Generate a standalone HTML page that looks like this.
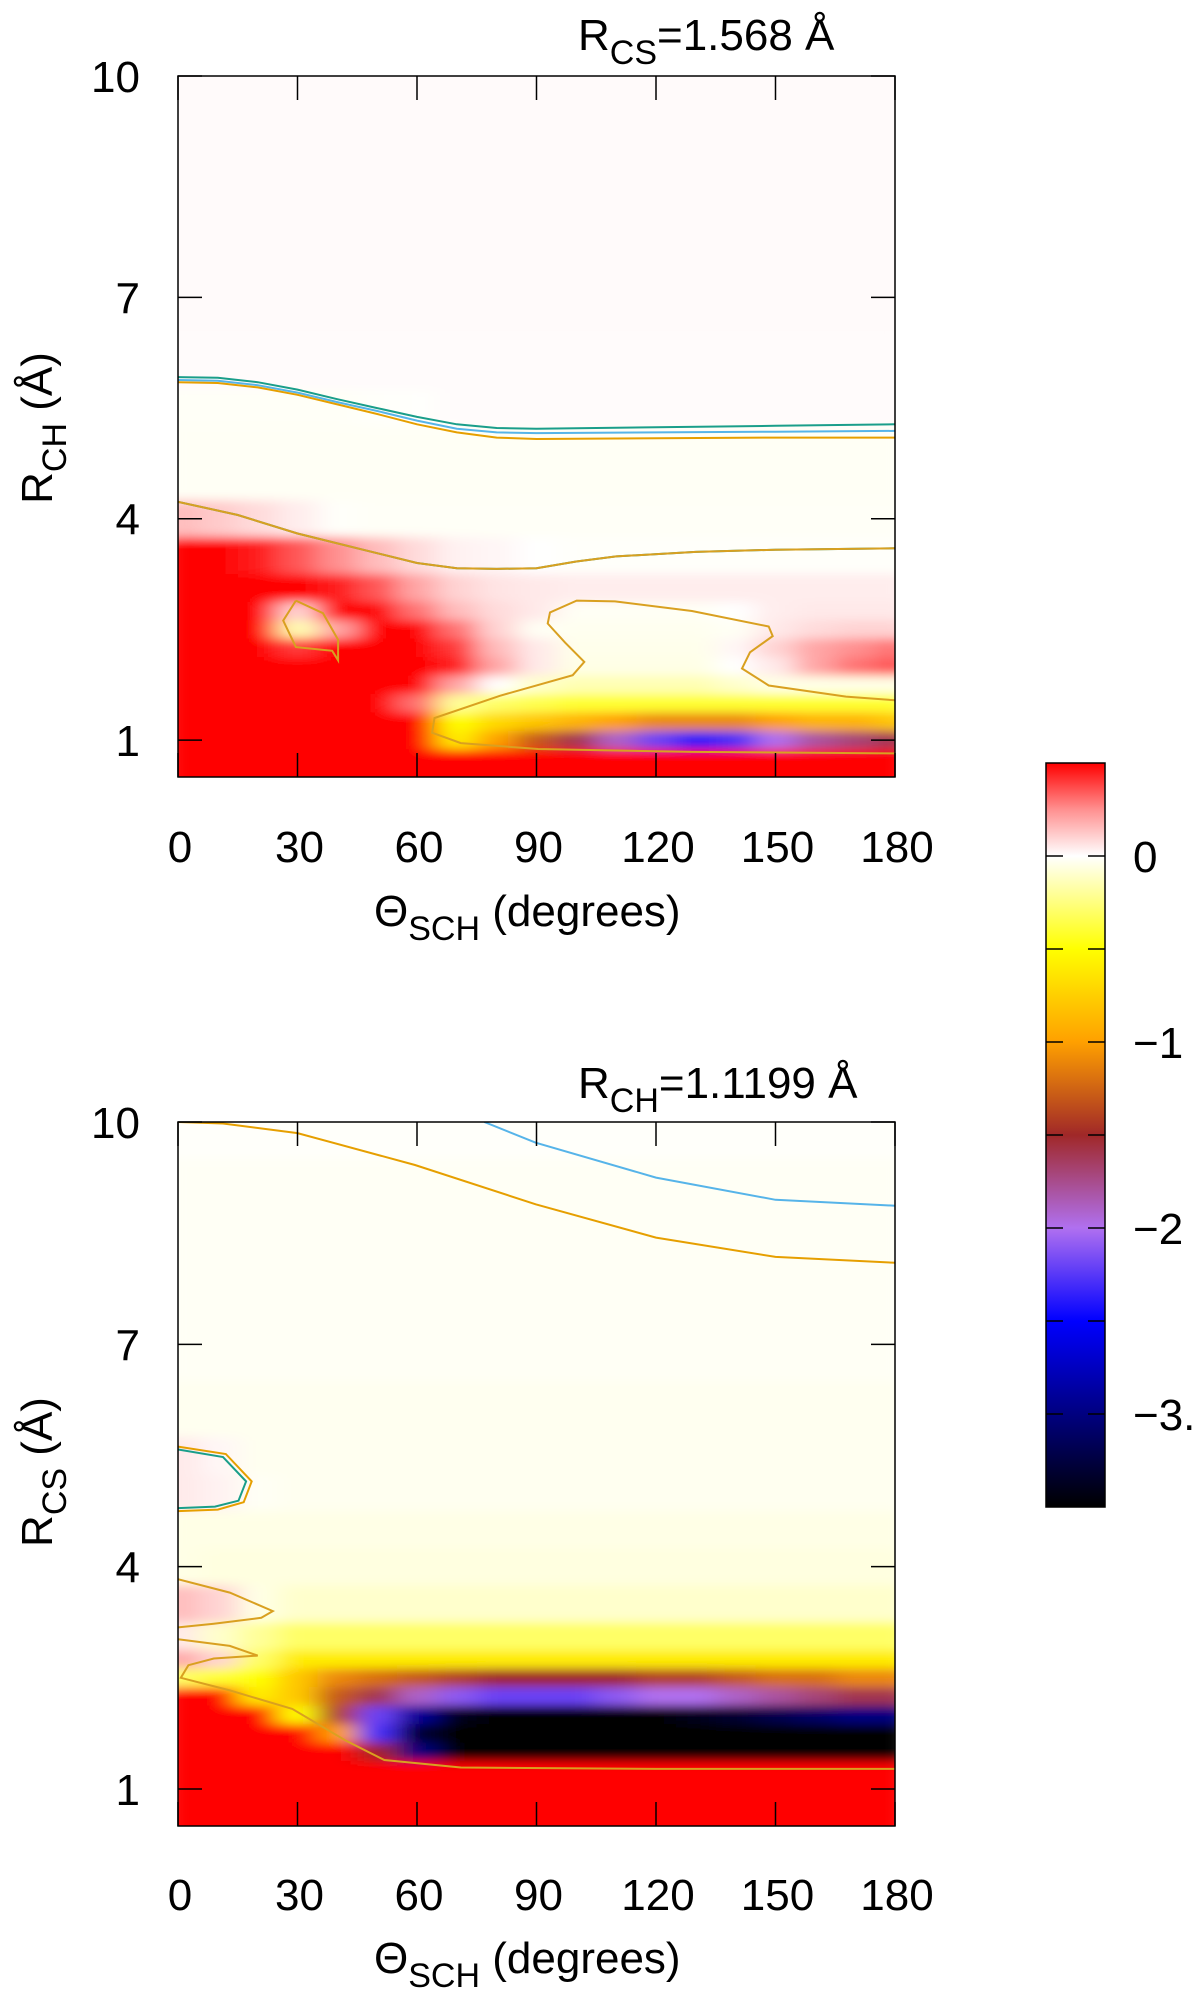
<!DOCTYPE html>
<html><head><meta charset="utf-8"><style>
html,body{margin:0;padding:0;background:#fff;}
svg{display:block;font-family:"Liberation Sans",sans-serif;}
</style></head><body>
<svg id="fig" width="1200" height="1989" viewBox="0 0 1200 1989" xmlns="http://www.w3.org/2000/svg">
<defs>
<filter id="blur" x="-5%" y="-5%" width="110%" height="110%"><feGaussianBlur stdDeviation="13 5" edgeMode="duplicate"/></filter>
<clipPath id="clipTop"><rect x="178" y="76" width="717" height="701"/></clipPath>
<clipPath id="clipBot"><rect x="178" y="1122" width="717" height="704"/></clipPath>
<linearGradient id="cbGrad" x1="0" y1="0" x2="0" y2="1"></linearGradient>
</defs>
</svg>
<script>
// ---- data ----
const thetaVals = [0,10,20,30,40,50,60,70,80,90,100,110,120,130,140,150,160,170,180];
const rVals = [10,9,8,7,6,5.5,5,4.5,4,3.5,3,2.75,2.5,2.25,2,1.75,1.5,1.25,1,0.75,0.5];
const topValues = [
[0.012,0.012,0.012,0.012,0.012,0.012,0.012,0.012,0.012,0.012,0.012,0.012,0.012,0.012,0.012,0.012,0.012,0.012,0.012],
[0.012,0.012,0.012,0.012,0.012,0.012,0.012,0.012,0.012,0.012,0.012,0.012,0.012,0.012,0.012,0.012,0.012,0.012,0.012],
[0.012,0.012,0.012,0.012,0.012,0.012,0.012,0.012,0.012,0.012,0.012,0.012,0.012,0.012,0.012,0.012,0.012,0.012,0.012],
[0.012,0.012,0.012,0.012,0.012,0.012,0.012,0.012,0.012,0.012,0.012,0.012,0.012,0.012,0.012,0.012,0.012,0.012,0.012],
[0.01,0.01,0.01,0.01,0.01,0.01,0.01,0.01,0.01,0.01,0.01,0.01,0.01,0.01,0.01,0.01,0.01,0.01,0.01],
[-0.015,-0.015,-0.015,-0.015,-0.015,-0.01,-0.005,0.008,0.008,0.008,0.008,0.008,0.008,0.008,0.008,0.008,0.008,0.008,0.008],
[-0.02,-0.02,-0.02,-0.02,-0.02,-0.02,-0.02,-0.02,-0.02,-0.02,-0.02,-0.02,-0.02,-0.02,-0.02,-0.02,-0.02,-0.02,-0.02],
[-0.02,-0.02,-0.02,-0.02,-0.02,-0.02,-0.02,-0.02,-0.02,-0.02,-0.02,-0.02,-0.02,-0.02,-0.02,-0.02,-0.02,-0.02,-0.02],
[0.15,0.12,0.08,0.04,-0.01,-0.015,-0.015,-0.015,-0.015,-0.015,-0.015,-0.015,-0.015,-0.015,-0.015,-0.015,-0.015,-0.015,-0.015],
[0.6,0.55,0.45,0.35,0.25,0.15,0.08,0.03,0.02,0.0,-0.01,-0.01,-0.01,-0.01,-0.01,-0.01,-0.01,-0.01,-0.01],
[0.6,0.6,0.55,0.5,0.45,0.35,0.2,0.1,0.06,0.05,0.04,0.04,0.04,0.04,0.04,0.04,0.04,0.04,0.04],
[0.6,0.6,0.6,0.1,0.5,0.5,0.3,0.15,0.08,0.05,-0.02,-0.02,-0.02,-0.02,0.0,0.04,0.05,0.05,0.05],
[0.6,0.6,0.6,-0.15,0.2,0.55,0.5,0.3,0.1,-0.02,-0.03,-0.03,-0.03,-0.03,-0.02,0.05,0.08,0.1,0.1],
[0.6,0.6,0.6,0.4,0.6,0.6,0.6,0.4,0.15,0.05,-0.04,-0.04,-0.04,-0.04,0.02,0.1,0.2,0.25,0.3],
[0.6,0.6,0.6,0.6,0.6,0.6,0.6,0.45,0.2,0.05,-0.05,-0.05,-0.05,-0.05,0.0,0.05,0.2,0.3,0.35],
[0.6,0.6,0.6,0.6,0.6,0.6,0.5,0.2,0.0,-0.1,-0.15,-0.15,-0.15,-0.15,-0.1,-0.05,-0.05,-0.05,-0.05],
[0.6,0.6,0.6,0.6,0.6,0.6,0.3,-0.2,-0.3,-0.35,-0.4,-0.4,-0.4,-0.4,-0.4,-0.4,-0.4,-0.4,-0.4],
[0.6,0.6,0.6,0.6,0.6,0.6,0.5,-0.5,-0.7,-0.8,-0.9,-1.0,-1.1,-1.1,-1.1,-1.0,-0.9,-0.9,-0.8],
[0.6,0.6,0.6,0.6,0.6,0.6,0.5,-0.6,-1.0,-1.3,-1.6,-1.9,-2.2,-2.4,-2.3,-2.0,-1.8,-1.7,-1.6],
[0.6,0.6,0.6,0.6,0.6,0.6,0.6,0.6,0.6,0.6,0.6,0.6,0.6,0.6,0.6,0.6,0.6,0.6,0.6],
[0.6,0.6,0.6,0.6,0.6,0.6,0.6,0.6,0.6,0.6,0.6,0.6,0.6,0.6,0.6,0.6,0.6,0.6,0.6]
];
const botValues = [
[-0.01,-0.01,-0.01,-0.01,-0.01,-0.01,-0.01,-0.01,-0.01,-0.01,-0.01,-0.01,-0.01,-0.01,-0.01,-0.01,-0.01,-0.01,-0.01],
[-0.02,-0.02,-0.02,-0.02,-0.02,-0.02,-0.02,-0.02,-0.02,-0.02,-0.02,-0.02,-0.02,-0.02,-0.02,-0.02,-0.02,-0.02,-0.02],
[-0.02,-0.02,-0.02,-0.02,-0.02,-0.02,-0.02,-0.02,-0.02,-0.02,-0.02,-0.02,-0.02,-0.02,-0.02,-0.02,-0.02,-0.02,-0.02],
[-0.02,-0.02,-0.02,-0.02,-0.02,-0.02,-0.02,-0.02,-0.02,-0.02,-0.02,-0.02,-0.02,-0.02,-0.02,-0.02,-0.02,-0.02,-0.02],
[-0.03,-0.03,-0.03,-0.03,-0.03,-0.03,-0.03,-0.03,-0.03,-0.03,-0.03,-0.03,-0.03,-0.03,-0.03,-0.03,-0.03,-0.03,-0.03],
[0.05,0.02,-0.03,-0.03,-0.03,-0.03,-0.03,-0.03,-0.03,-0.03,-0.03,-0.03,-0.03,-0.03,-0.03,-0.03,-0.03,-0.03,-0.03],
[0.05,0.03,-0.02,-0.03,-0.03,-0.03,-0.03,-0.03,-0.03,-0.03,-0.03,-0.03,-0.03,-0.03,-0.03,-0.03,-0.03,-0.03,-0.03],
[-0.05,-0.05,-0.05,-0.05,-0.05,-0.05,-0.05,-0.05,-0.05,-0.05,-0.05,-0.05,-0.05,-0.05,-0.05,-0.05,-0.05,-0.05,-0.05],
[-0.05,-0.06,-0.06,-0.06,-0.06,-0.06,-0.06,-0.06,-0.06,-0.06,-0.06,-0.06,-0.06,-0.06,-0.06,-0.06,-0.06,-0.06,-0.06],
[0.15,0.1,-0.05,-0.1,-0.1,-0.1,-0.1,-0.1,-0.1,-0.1,-0.1,-0.1,-0.1,-0.1,-0.1,-0.1,-0.1,-0.1,-0.1],
[0.05,-0.1,-0.2,-0.3,-0.3,-0.3,-0.3,-0.3,-0.3,-0.3,-0.3,-0.3,-0.3,-0.3,-0.3,-0.3,-0.3,-0.3,-0.3],
[0.2,0.1,-0.3,-0.6,-0.6,-0.6,-0.6,-0.6,-0.6,-0.6,-0.6,-0.6,-0.6,-0.6,-0.6,-0.6,-0.6,-0.6,-0.6],
[-0.3,-0.4,-0.5,-0.8,-1.1,-1.2,-1.3,-1.4,-1.5,-1.5,-1.5,-1.5,-1.4,-1.4,-1.3,-1.2,-1.2,-1.1,-1.1],
[0.6,0.5,-0.6,-0.8,-1.3,-1.6,-1.9,-2.1,-2.2,-2.2,-2.2,-2.1,-2.0,-2.0,-1.9,-1.8,-1.7,-1.6,-1.6],
[0.6,0.6,0.5,-0.5,-1.4,-2.2,-2.9,-3.4,-3.5,-3.5,-3.5,-3.5,-3.5,-3.4,-3.3,-3.2,-3.1,-3.0,-3.0],
[0.6,0.6,0.6,0.5,-1.0,-2.3,-3.3,-3.5,-3.5,-3.5,-3.5,-3.5,-3.5,-3.5,-3.5,-3.5,-3.5,-3.5,-3.5],
[0.6,0.6,0.6,0.6,0.5,-1.5,-3.0,-3.5,-3.5,-3.5,-3.5,-3.5,-3.5,-3.5,-3.5,-3.5,-3.5,-3.5,-3.5],
[0.6,0.6,0.6,0.6,0.6,0.6,0.6,0.6,0.6,0.6,0.6,0.6,0.6,0.6,0.6,0.6,0.6,0.6,0.6],
[0.6,0.6,0.6,0.6,0.6,0.6,0.6,0.6,0.6,0.6,0.6,0.6,0.6,0.6,0.6,0.6,0.6,0.6,0.6],
[0.6,0.6,0.6,0.6,0.6,0.6,0.6,0.6,0.6,0.6,0.6,0.6,0.6,0.6,0.6,0.6,0.6,0.6,0.6],
[0.6,0.6,0.6,0.6,0.6,0.6,0.6,0.6,0.6,0.6,0.6,0.6,0.6,0.6,0.6,0.6,0.6,0.6,0.6]
];
// contour lines [theta, r] pairs
const topTealTheta = [0,10,20,30,40,50,60,70,80,90,120,150,180];
const topTealR = [5.92,5.91,5.85,5.75,5.62,5.5,5.38,5.28,5.23,5.22,5.24,5.26,5.28];
const topBlueR = [5.88,5.87,5.81,5.71,5.58,5.46,5.33,5.22,5.17,5.16,5.17,5.18,5.19];
const topOrangeR = [5.85,5.84,5.78,5.68,5.55,5.42,5.28,5.17,5.1,5.08,5.09,5.1,5.1];
const topMidTheta = [0,15,30,45,60,70,80,90,100,110,130,150,180];
const topMidR = [4.23,4.05,3.8,3.6,3.4,3.33,3.32,3.33,3.42,3.49,3.55,3.58,3.6];
const islandTheta = [29.6,26.4,29.6,38.7,40.2,40.2,36.4,29.6];
const islandR = [2.89,2.62,2.26,2.21,2.08,2.36,2.72,2.89];
const wellTheta = [180,167.7,148.3,141.6,143.6,149.3,148.3,129,109.7,100.1,93.4,92.8,97.2,102,99.1,80.8,64.4,63.8,71,90.4,129,180];
const wellR = [1.54,1.59,1.74,1.97,2.19,2.41,2.54,2.75,2.88,2.89,2.73,2.58,2.32,2.06,1.88,1.6,1.3,1.1,0.96,0.88,0.84,0.82];
const botOrangeTheta = [0,11.3,30,59.5,89.8,120,150,180];
const botOrangeR = [10.0,9.98,9.85,9.42,8.89,8.44,8.18,8.1];
const botBlueTheta = [76.9,89.8,120,150,180];
const botBlueR = [10.0,9.72,9.25,8.95,8.87];
const botIslandTheta = [0,11.3,17.1,15.2,9.3,0];
const botIslandR = [5.58,5.48,5.15,4.89,4.81,4.79];
const botIslandOuterTheta = [0,12,18.5,16.5,10,0];
const botIslandOuterR = [5.62,5.52,5.15,4.87,4.77,4.75];
const botLow1Theta = [0,13,23.8,20.9,9,0];
const botLow1R = [3.83,3.65,3.4,3.31,3.23,3.18];
const botLow2Theta = [0,13,20,9,2.6,0.7,13,28.7,42.2,51.8,71,120,180];
const botLow2R = [3.02,2.93,2.8,2.76,2.67,2.5,2.33,2.08,1.65,1.39,1.29,1.27,1.27];
const xTicks = [0,30,60,90,120,150,180];
const yTicks = [1,4,7,10];
const cbTicks = [0,-1,-2,-3];
const cbTickLabels = ["0","\u22121","\u22122","\u22123."];
const cmapVals = [0.5,0.25,0,-0.5,-1,-1.5,-2,-2.5,-3,-3.5];
const cmapCols = ["#ff0000","#ff9090","#ffffff","#ffff00","#ffa000","#a02828","#b070f0","#0000ff","#000080","#000000"];

const NS="http://www.w3.org/2000/svg";
const svg=document.getElementById('fig');
function el(tag,attrs,parent){const e=document.createElementNS(NS,tag);for(const k in attrs)e.setAttribute(k,attrs[k]);(parent||svg).appendChild(e);return e;}
function hex(c){return [parseInt(c.substr(1,2),16),parseInt(c.substr(3,2),16),parseInt(c.substr(5,2),16)];}
function cmap(v){
  if(v>=cmapVals[0])return cmapCols[0];
  if(v<=cmapVals[cmapVals.length-1])return cmapCols[cmapCols.length-1];
  for(let i=0;i<cmapVals.length-1;i++){
    if(v<=cmapVals[i]&&v>=cmapVals[i+1]){
      const t=(cmapVals[i]-v)/(cmapVals[i]-cmapVals[i+1]);
      const a=hex(cmapCols[i]),b=hex(cmapCols[i+1]);
      return 'rgb('+a.map((x,j)=>Math.round(x+(b[j]-x)*t)).join(',')+')';
    }
  }
}

function drawPlot(p){
  const xS=t=>p.x0+(t-0)/(180-0)*(p.x1-p.x0);
  const yS=r=>p.yTop+(10-r)/(10-0.5)*(p.yBot-p.yTop);
  const clipG=el('g',{'clip-path':'url(#'+p.clip+')'});
  
  
  const hg=el('g',{filter:'url(#blur)'},clipG);
  for(let i=0;i<rVals.length;i++){
    const rUp=i===0?rVals[0]+0.5:(rVals[i]+rVals[i-1])/2;
    const rDn=i===rVals.length-1?rVals[i]-0.5:(rVals[i]+rVals[i+1])/2;
    for(let j=0;j<thetaVals.length;j++){
      const tL=thetaVals[j]-5,tR=thetaVals[j]+5;
      const c=el('rect',{x:xS(tL),y:yS(rUp),width:xS(tR)-xS(tL)+0.5,height:yS(rDn)-yS(rUp)+0.5,fill:cmap(p.values[i][j])},hg);
      
      
    }
  }
  const cg=el('g',{fill:'none','stroke-width':2},clipG);
  p.lines.forEach(L=>{
    const pts=L.t.map((t,k)=>xS(t).toFixed(1)+','+yS(L.r[k]).toFixed(1)).join(' ');
    const pl=el('polyline',{points:pts,stroke:L.c},cg);
    
    
  });
  const fr=el('rect',{x:p.x0,y:p.yTop,width:p.x1-p.x0,height:p.yBot-p.yTop,fill:'none',stroke:'#000','stroke-width':1.5});
  
  
  const tg=el('g',{stroke:'#000','stroke-width':1.5});
  xTicks.forEach(t=>{
    const x=xS(t);
    el('line',{x1:x,y1:p.yBot,x2:x,y2:p.yBot-24},tg);
    el('line',{x1:x,y1:p.yTop,x2:x,y2:p.yTop+24},tg);
    const tx=el('text',{x:x+2,y:p.xLabY,'font-size':44,'text-anchor':'middle',fill:'#000'});
    tx.textContent=t;
    
    
  });
  yTicks.forEach(r=>{
    const y=yS(r);
    el('line',{x1:p.x0,y1:y,x2:p.x0+24,y2:y},tg);
    el('line',{x1:p.x1,y1:y,x2:p.x1-24,y2:y},tg);
    const tx=el('text',{x:p.x0-38,y:y+16,'font-size':44,'text-anchor':'end',fill:'#000'});
    tx.textContent=r;
    
    
  });
  const xt=el('text',{x:374,y:p.xTitleY,'font-size':44,fill:'#000'});
  xt.innerHTML='\u0398<tspan font-size="34" dy="14">SCH</tspan><tspan dy="-14"> (degrees)</tspan>';
  
  
  const yt=el('text',{x:0,y:0,'font-size':44,fill:'#000','text-anchor':'middle',transform:'translate(52,'+p.yTitleC+') rotate(-90)'});
  yt.innerHTML='R<tspan font-size="34" dy="14">'+p.ySub+'</tspan><tspan dy="-14"> (\u00c5)</tspan>';
  
  
  const ti=el('text',{x:578,y:p.titleY,'font-size':44,fill:'#000'});
  ti.innerHTML='R<tspan font-size="34" dy="14">'+p.tSub+'</tspan><tspan dy="-14">='+p.tVal+' \u00c5</tspan>';
  
  
}

drawPlot({name:'top-plot',clip:'clipTop',x0:178,x1:895,yTop:76,yBot:777,values:topValues,xLabY:862,xTitleY:926,yTitleC:428,ySub:'CH',tSub:'CS',tVal:'1.568',titleY:50,
 lines:[{t:topTealTheta,r:topTealR,c:'#1a9e8a'},{t:topTealTheta,r:topBlueR,c:'#56b4e9'},{t:topTealTheta,r:topOrangeR,c:'#e69f00'},
 {t:topMidTheta,r:topMidR,c:'#1a9e8a'},{t:topMidTheta,r:topMidR,c:'#d9a020'},
 {t:islandTheta,r:islandR,c:'#d9a020'},{t:wellTheta,r:wellR,c:'#d9a020'}]});
drawPlot({name:'bottom-plot',clip:'clipBot',x0:178,x1:895,yTop:1122,yBot:1826,values:botValues,xLabY:1910,xTitleY:1973,yTitleC:1472,ySub:'CS',tSub:'CH',tVal:'1.1199',titleY:1098,
 lines:[{t:botOrangeTheta,r:botOrangeR,c:'#e69f00'},{t:botBlueTheta,r:botBlueR,c:'#56b4e9'},
 {t:botIslandOuterTheta,r:botIslandOuterR,c:'#e69f00'},{t:botIslandTheta,r:botIslandR,c:'#1a9e8a'},
 {t:botLow1Theta,r:botLow1R,c:'#d9a020'},{t:botLow2Theta,r:botLow2R,c:'#d9a020'}]});

// colorbar
const cbX=1046,cbW=59,cbTop=763,cbBot=1507;
const cbY=v=>cbTop+(0.5-v)/(0.5+3.5)*(cbBot-cbTop);
const grad=document.getElementById('cbGrad');
cmapVals.forEach((v,i)=>{el('stop',{offset:((0.5-v)/4).toFixed(4),'stop-color':cmapCols[i]},grad);});
const cb=el('rect',{x:cbX,y:cbTop,width:cbW,height:cbBot-cbTop,fill:'url(#cbGrad)',stroke:'#000','stroke-width':1.5});


const cbt=el('g',{stroke:'#000','stroke-width':1.5});
[0,-0.5,-1,-1.5,-2,-2.5,-3].forEach(v=>{
  el('line',{x1:cbX,y1:cbY(v),x2:cbX+17,y2:cbY(v)},cbt);
  el('line',{x1:cbX+cbW,y1:cbY(v),x2:cbX+cbW-17,y2:cbY(v)},cbt);
});
cbTicks.forEach((v,i)=>{
  const tx=el('text',{x:1133,y:cbY(v)+16,'font-size':44,fill:'#000'});
  tx.textContent=cbTickLabels[i];
  
  
});
</script>
</body></html>
